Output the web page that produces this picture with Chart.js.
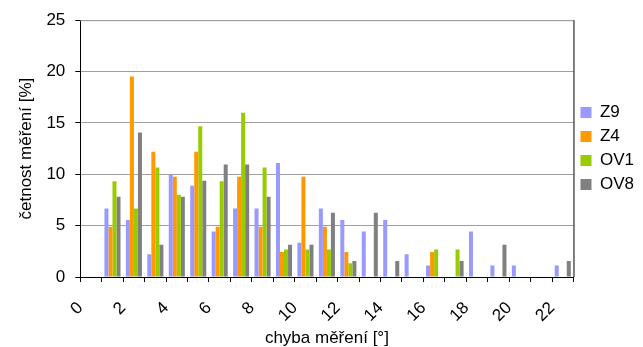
<!DOCTYPE html>
<html>
<head>
<meta charset="utf-8">
<script src="https://cdn.jsdelivr.net/npm/chart.js@4"></script>
<style>
  html, body { margin: 0; padding: 0; background: #fff; }
  #wrap { width: 643px; height: 347px; }
</style>
</head>
<body>
<div id="wrap"><canvas id="errChart"></canvas></div>
<script>
// chyba měření 0..22 °  (each label sits at the left edge of its bin)
const categories = ['0','1','2','3','4','5','6','7','8','9','10','11','12','13','14','15','16','17','18','19','20','21','22'];
const z9  = [0, 6.67, 5.56, 2.22, 10, 8.89, 4.44, 6.67, 6.67, 11.11, 3.33, 6.67, 5.56, 4.44, 5.56, 2.22, 1.11, 0, 4.44, 1.11, 1.11, 0, 1.11];
const z4  = [0, 4.88, 19.51, 12.2, 9.76, 12.2, 4.88, 9.76, 4.88, 2.44, 9.76, 4.88, 2.44, 0, 0, 0, 2.44, 0, 0, 0, 0, 0, 0];
const ov1 = [0, 9.33, 6.67, 10.67, 8, 14.67, 9.33, 16, 10.67, 2.67, 2.67, 2.67, 1.33, 0, 0, 0, 2.67, 2.67, 0, 0, 0, 0, 0];
const ov8 = [0, 7.81, 14.06, 3.13, 7.81, 9.38, 10.94, 10.94, 7.81, 3.13, 3.13, 6.25, 1.56, 6.25, 1.56, 0, 0, 1.56, 0, 3.13, 0, 0, 1.56];
const yTicks = [0, 5, 10, 15, 20, 25];

const FONT = 'Liberation Sans, Arial, sans-serif';
const FS = 17;

// frame: grey top edge, black right edge
const framePlugin = {
  id: 'frame',
  afterDraw(chart) {
    const a = chart.chartArea;
    const c = chart.ctx;
    c.save();
    c.lineWidth = 1;
    c.strokeStyle = '#a0a0a0';
    c.beginPath();
    c.moveTo(a.left, a.top + 0.5);
    c.lineTo(a.right, a.top + 0.5);
    c.stroke();
    c.strokeStyle = '#000';
    c.beginPath();
    c.moveTo(a.right + 0.5, a.top);
    c.lineTo(a.right + 0.5, a.bottom);
    c.stroke();
    c.restore();
  }
};

new Chart(document.getElementById('errChart'), {
  type: 'bar',
  data: {
    labels: categories,
    datasets: [
      { label: 'Z9', data: z9, backgroundColor: '#9999ff' },
      { label: 'Z4', data: z4, backgroundColor: '#ff9900' },
      { label: 'OV1', data: ov1, backgroundColor: '#99cc00' },
      { label: 'OV8', data: ov8, backgroundColor: '#808080' }
    ]
  },
  options: {
    responsive: true,
    maintainAspectRatio: false,
    animation: false,
    datasets: { bar: { categoryPercentage: 0.75, barPercentage: 1.0, borderWidth: 0 } },
    layout: { padding: { left: 0, right: -1, top: 16, bottom: 0 } },
    plugins: {
      legend: {
        position: 'right',
        fullSize: false,
        labels: {
          boxWidth: 11,
          boxHeight: 11,
          padding: 7,
          color: '#000',
          font: { family: FONT, size: FS }
        }
      },
      tooltip: { enabled: false }
    },
    scales: {
      x: {
        afterFit(scale) {
          // rotated labels: keep the axis box tight like the original
          scale.paddingLeft = 0;
          scale.paddingRight = 0;
          scale.height = 70;
        },
        grid: {
          offset: true,
          drawOnChartArea: false,
          color: '#000',
          tickLength: 5
        },
        border: { color: '#000' },
        ticks: {
          autoSkip: false,
          minRotation: 45,
          maxRotation: 45,
          padding: 16,
          labelOffset: -10.7,
          color: '#000',
          font: { family: FONT, size: FS },
          callback: function(val, i) { return i % 2 === 0 ? this.getLabelForValue(val) : ''; }
        },
        title: {
          display: true,
          text: 'chyba měření [°]',
          color: '#000',
          font: { family: FONT, size: FS },
          padding: { top: 0, bottom: -2 }
        }
      },
      y: {
        min: yTicks[0],
        max: yTicks[yTicks.length - 1],
        grid: {
          color: '#a0a0a0',
          borderDash: [6, 4],
          tickColor: '#000',
          tickBorderDash: [],
          tickLength: 5
        },
        border: { color: '#000' },
        ticks: {
          stepSize: yTicks[1] - yTicks[0],
          padding: 10,
          color: '#000',
          font: { family: FONT, size: FS }
        },
        title: {
          display: true,
          text: 'četnost měření [%]',
          color: '#000',
          font: { family: FONT, size: FS },
          padding: { top: 16, bottom: 0 }
        }
      }
    }
  },
  plugins: [framePlugin]
});
</script>
</body>
</html>
